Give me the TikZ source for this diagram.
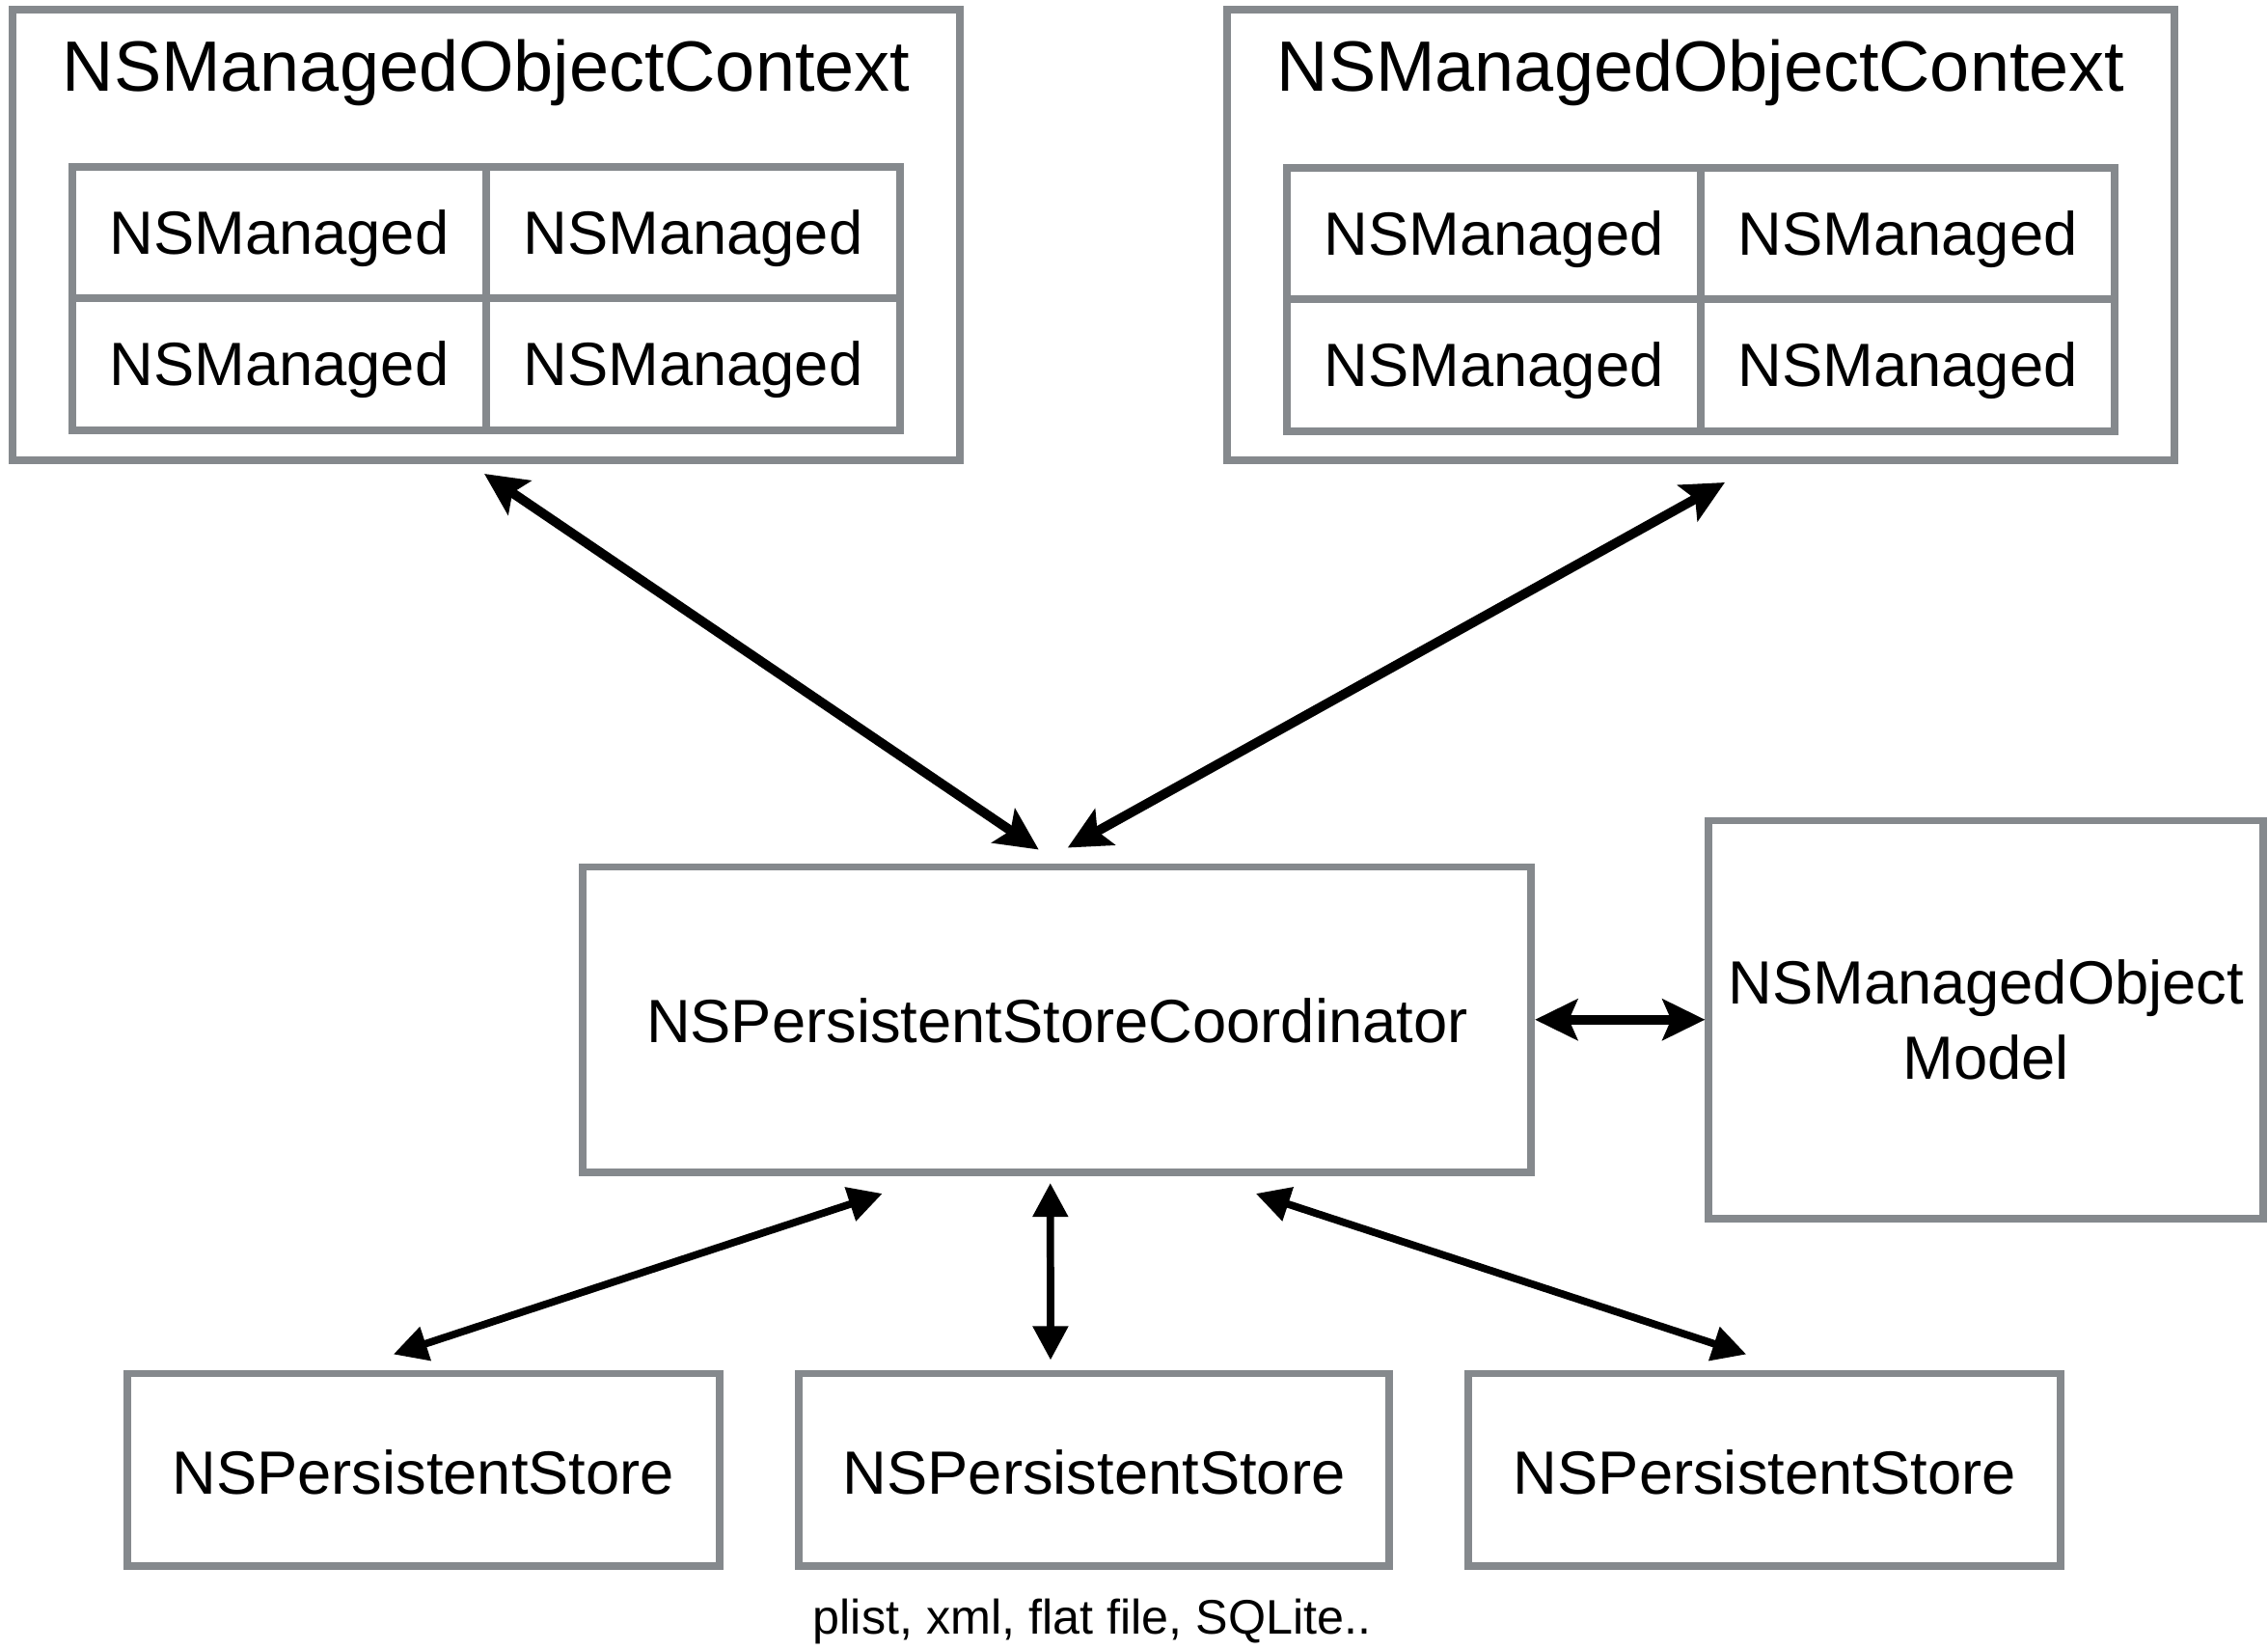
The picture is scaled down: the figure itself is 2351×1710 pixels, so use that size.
\documentclass[tikz,border=0pt]{standalone}
\usepackage{fontspec}
\setmainfont{Liberation Sans}
\usetikzlibrary{arrows.meta,calc}
\definecolor{boxgray}{RGB}{133,137,141}
\tikzset{
  box/.style={draw=boxgray,line width=2.2pt,rectangle,inner sep=0pt,fill=white},
  cell/.style={box,minimum width=4.29cm,minimum height=1.365cm,font=\fontsize{18}{21}\selectfont,text height=16.7pt,text depth=4pt},
  lbl/.style={inner sep=0pt,font=\fontsize{18}{22}\selectfont,align=center},
  bigarrow/.style={line width=2.8pt,{Stealth[length=12.5pt,width=12pt,inset=2.5pt]}-{Stealth[length=12.5pt,width=12pt,inset=2.5pt]}},
  smallarrow/.style={line width=2.2pt,{Triangle[length=10pt,width=10pt]}-{Triangle[length=10pt,width=10pt]}}
}
\begin{document}
\begin{tikzpicture}[x=0.01cm,y=-0.01cm]
\useasboundingbox (0,0) rectangle (2351,1710);
% contexts
\node[box,minimum width=9.81cm,minimum height=4.665cm] (ctxL) at (504,243.75) {};
\node[lbl,font=\fontsize{21}{25}\selectfont] (ctxLt) at (504,75) {NSManagedObjectContext};
\node[cell] (l11) at (289.5,241) {NSManaged};
\node[cell] (l12) at (718.5,241) {NSManaged};
\node[cell] (l21) at (289.5,377.5) {NSManaged};
\node[cell] (l22) at (718.5,377.5) {NSManaged};

\node[box,minimum width=9.82cm,minimum height=4.665cm] (ctxR) at (1763,243.75) {};
\node[lbl,font=\fontsize{21}{25}\selectfont] (ctxRt) at (1763,75) {NSManagedObjectContext};
\node[cell] (r11) at (1548.5,242) {NSManaged};
\node[cell] (r12) at (1977.5,242) {NSManaged};
\node[cell] (r21) at (1548.5,378.5) {NSManaged};
\node[cell] (r22) at (1977.5,378.5) {NSManaged};

% coordinator and model
\node[box,minimum width=9.825cm,minimum height=3.165cm] (coord) at (1095.75,1056.75) {};
\node[lbl] (coordt) at (1095.75,1058) {NSPersistentStoreCoordinator};
\node[box,minimum width=5.745cm,minimum height=4.125cm] (model) at (2058.75,1056.75) {};
\node[lbl] (modelt) at (2058.75,1057) {NSManagedObject\\Model};

% stores
\node[box,minimum width=6.135cm,minimum height=1.995cm] (s1) at (438.75,1523.25) {};
\node[lbl] (s1t) at (438.75,1526) {NSPersistentStore};
\node[box,minimum width=6.12cm,minimum height=1.995cm] (s2) at (1134,1523.25) {};
\node[lbl] (s2t) at (1134,1526) {NSPersistentStore};
\node[box,minimum width=6.135cm,minimum height=1.995cm] (s3) at (1829.25,1523.25) {};
\node[lbl] (s3t) at (1829.25,1526) {NSPersistentStore};
\node[lbl,font=\fontsize{14.3}{17}\selectfont] (cap) at (1132,1680) {plist, xml, flat file, SQLite..};

% connectors
\draw[bigarrow] ($(ctxL.south)+(-2,10)$) -- ($(coord.north)+(-19,-14)$);
\draw[bigarrow] ($(ctxR.south)+(25,19)$) -- ($(coord.north)+(11,-16)$);
\draw[bigarrow] (coord.east) -- (model.west);
\draw[smallarrow] ($(coord.south)+(-181,18)$) -- ($(s1.north)+(-31,-16)$);
\draw[smallarrow] ($(coord.south)+(-7,7)$) -- ($(s2.north)+(-45,-10)$);
\draw[smallarrow] ($(coord.south)+(206,18)$) -- ($(s3.north)+(-19,-16)$);
\end{tikzpicture}
\end{document}
